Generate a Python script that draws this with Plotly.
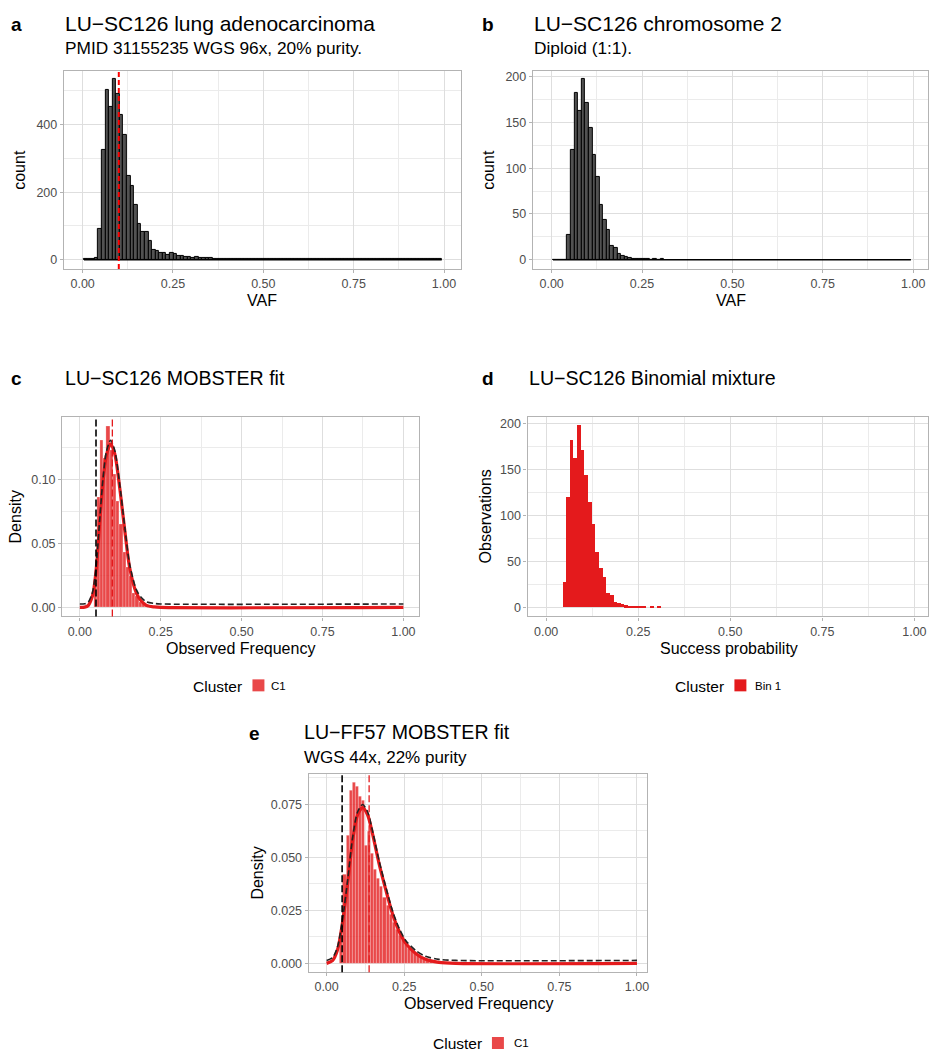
import plotly.graph_objects as go

W, H = 930, 1051
FONT = "Liberation Sans"

# ---------------- data ----------------
BIN_START = 0.0037
BIN_WIDTH = 0.0099
N_BINS = 100

# panel a: LU-SC126 whole genome VAF histogram (counts per bin, bins 0..99)
lung_counts = [1, 1, 2, 5, 91, 325, 504, 452, 535, 492,
               430, 371, 249, 218, 163, 105, 83, 82, 55, 30,
               27, 21, 19, 13, 20, 18, 10, 11, 9, 7,
               5, 7, 6, 5, 4, 4, 3, 3, 2, 3,
               2, 2, 3, 2, 2, 2, 2, 1, 2, 1,
               2, 1, 1, 2, 1, 1, 1, 2, 1, 1,
               1, 1, 1, 1, 1, 1, 1, 1, 1, 1,
               1, 1, 1, 1, 1, 1, 1, 1, 1, 1,
               1, 1, 1, 1, 1, 1, 1, 1, 1, 1,
               1, 1, 1, 1, 1, 1, 1, 1, 1, 1]
lung_purity_line = 0.10

# panels b and d: chromosome 2 counts (bins 0..30, rest empty)
chr2_counts = [0, 0, 0, 0, 27, 120, 182, 163, 198, 171,
               144, 115, 91, 60, 43, 33, 15, 13, 6, 4,
               3, 2, 1, 1, 1, 1, 1, 0, 1, 0, 1]

# panel c: MOBSTER fit LU-SC126 (density per bin, starting at bin 4)
c_first_bin = 4
c_density = [0.019, 0.086, 0.131, 0.117, 0.142, 0.123, 0.104, 0.083, 0.065, 0.043,
             0.031, 0.024, 0.011, 0.009, 0.004, 0.003, 0.002, 0.0015, 0.0007, 0.0007,
             0.0007, 0.0007, 0.0007, 0, 0.0007, 0, 0.0007]
c_fit_x = [0, 0.015, 0.026, 0.035, 0.041, 0.051, 0.062, 0.072, 0.082, 0.095,
           0.108, 0.123, 0.139, 0.154, 0.175, 0.19, 0.206, 0.23, 0.25, 1.0]
c_fit_y = [0, 0.0002, 0.0015, 0.006, 0.011, 0.031, 0.068, 0.099, 0.119, 0.128,
           0.120, 0.094, 0.060, 0.031, 0.011, 0.005, 0.0016, 0.0004, 0, 0]
c_mix_y = [0.0027, 0.0029, 0.0042, 0.0087, 0.0137, 0.0337, 0.0707, 0.1017, 0.1217, 0.1307,
           0.1227, 0.0967, 0.0627, 0.0337, 0.0137, 0.0077, 0.0043, 0.0031, 0.0027, 0.0027]
c_cutoff = 0.05
c_mean = 0.1005

# panel e: MOBSTER fit LU-FF57
e_first_bin = 4
e_density = [0.012, 0.0416, 0.060, 0.0816, 0.085, 0.0835, 0.0785, 0.0766, 0.0553, 0.062,
             0.0518, 0.044, 0.040, 0.036, 0.031, 0.027, 0.023, 0.019, 0.016, 0.013,
             0.011, 0.009, 0.007, 0.006, 0.005, 0.004, 0.003, 0.0025, 0.002, 0.0015,
             0.001, 0.001, 0.0007, 0.0005]
e_fit_x = [0, 0.019, 0.035, 0.051, 0.068, 0.084, 0.10, 0.116, 0.132, 0.148,
           0.169, 0.191, 0.212, 0.234, 0.255, 0.287, 0.319, 0.362, 0.416, 1.0]
e_fit_y = [0, 0.0013, 0.0063, 0.019, 0.038, 0.058, 0.070, 0.0734, 0.070, 0.061,
           0.047, 0.0345, 0.0235, 0.015, 0.0094, 0.0047, 0.0019, 0.0005, 0, 0]
e_mix_y = [0.0014, 0.0027, 0.0077, 0.0204, 0.0394, 0.0594, 0.0714, 0.0748, 0.0714, 0.0624,
           0.0484, 0.0359, 0.0249, 0.0164, 0.0108, 0.0061, 0.0033, 0.0019, 0.0014, 0.0014]
e_cutoff = 0.05
e_mean = 0.137

RED = "#E41A1C"
RED_A = "rgba(228,26,28,0.8)"
GRID = "#DEDEDE"
GRID_MINOR = "#EBEBEB"
BORDER = "#B3B3B3"
TICKTXT = "#4D4D4D"


def centers(first, n):
    return [BIN_START + BIN_WIDTH * (first + k + 0.5) for k in range(n)]


def px_x(x):
    return x / W


def px_y(y):
    return 1 - y / H


fig = go.Figure()

# panel a
fig.add_trace(go.Bar(x=centers(0, len(lung_counts)), y=lung_counts, width=BIN_WIDTH,
                     marker=dict(color="#525252", line=dict(color="black", width=1)),
                     xaxis="x", yaxis="y", showlegend=False))
fig.add_trace(go.Scatter(x=[BIN_START, BIN_START + N_BINS * BIN_WIDTH], y=[0, 0], mode="lines",
                         line=dict(color="black", width=1.5), xaxis="x", yaxis="y", showlegend=False))

# panel b
fig.add_trace(go.Bar(x=centers(0, len(chr2_counts)), y=chr2_counts, width=BIN_WIDTH,
                     marker=dict(color="#525252", line=dict(color="black", width=1)),
                     xaxis="x2", yaxis="y2", showlegend=False))
fig.add_trace(go.Scatter(x=[BIN_START, BIN_START + N_BINS * BIN_WIDTH], y=[0, 0], mode="lines",
                         line=dict(color="black", width=1.5), xaxis="x2", yaxis="y2", showlegend=False))

# panel c
fig.add_trace(go.Bar(x=centers(c_first_bin, len(c_density)), y=c_density, width=BIN_WIDTH,
                     marker=dict(color=RED_A, line=dict(color="rgba(255,255,255,0.45)", width=0.5)),
                     xaxis="x3", yaxis="y3", showlegend=False))
fig.add_trace(go.Scatter(x=c_fit_x, y=c_fit_y, mode="lines", line=dict(color=RED, width=3.2, shape="spline", smoothing=0.8),
                         xaxis="x3", yaxis="y3", showlegend=False))
fig.add_trace(go.Scatter(x=c_fit_x, y=c_mix_y, mode="lines",
                         line=dict(color="#222222", width=1.6, dash="6px,3px", shape="spline", smoothing=0.8),
                         xaxis="x3", yaxis="y3", showlegend=False))

# panel d
fig.add_trace(go.Bar(x=centers(0, len(chr2_counts)), y=chr2_counts, width=BIN_WIDTH,
                     marker=dict(color=RED, line=dict(width=0)),
                     xaxis="x4", yaxis="y4", showlegend=False))

# panel e
fig.add_trace(go.Bar(x=centers(e_first_bin, len(e_density)), y=e_density, width=BIN_WIDTH,
                     marker=dict(color=RED_A, line=dict(color="rgba(255,255,255,0.45)", width=0.5)),
                     xaxis="x5", yaxis="y5", showlegend=False))
fig.add_trace(go.Scatter(x=e_fit_x, y=e_fit_y, mode="lines", line=dict(color=RED, width=3.2, shape="spline", smoothing=0.8),
                         xaxis="x5", yaxis="y5", showlegend=False))
fig.add_trace(go.Scatter(x=e_fit_x, y=e_mix_y, mode="lines",
                         line=dict(color="#222222", width=1.6, dash="6px,3px", shape="spline", smoothing=0.8),
                         xaxis="x5", yaxis="y5", showlegend=False))


def xaxis(domain_px, rng, anchor):
    return dict(domain=[px_x(domain_px[0]), px_x(domain_px[1])], range=rng, anchor=anchor,
                tickmode="linear", tick0=0, dtick=0.25, tickformat=".2f",
                showgrid=True, gridcolor=GRID, gridwidth=1,
                minor=dict(showgrid=True, gridcolor=GRID_MINOR, gridwidth=0.6, dtick=0.125, tick0=0),
                showline=True, mirror=True, linecolor=BORDER, linewidth=1.2,
                ticks="outside", ticklen=3, tickwidth=1, tickcolor=BORDER,
                zeroline=False, tickfont=dict(family=FONT, size=12.5, color=TICKTXT))


def yaxis(domain_px, rng, dtick, fmt, anchor):
    return dict(domain=[px_y(domain_px[1]), px_y(domain_px[0])], range=rng, anchor=anchor,
                tickmode="linear", tick0=0, dtick=dtick, tickformat=fmt,
                showgrid=True, gridcolor=GRID, gridwidth=1,
                minor=dict(showgrid=True, gridcolor=GRID_MINOR, gridwidth=0.6, dtick=dtick / 2, tick0=0),
                showline=True, mirror=True, linecolor=BORDER, linewidth=1.2,
                ticks="outside", ticklen=3, tickwidth=1, tickcolor=BORDER,
                zeroline=False, tickfont=dict(family=FONT, size=12.5, color=TICKTXT))


fig.update_layout(
    width=W, height=H, margin=dict(l=0, r=0, t=0, b=0),
    paper_bgcolor="white", plot_bgcolor="white",
    bargap=0, barmode="overlay",
    font=dict(family=FONT, color="black"),
    xaxis=xaxis([64, 462], [-0.052, 1.047], "y"),
    yaxis=yaxis([70, 268.3], [-27.5, 559], 200, "d", "x"),
    xaxis2=xaxis([534, 930], [-0.052, 1.041], "y2"),
    yaxis2=yaxis([70, 268.3], [-10.2, 206.3], 50, "d", "x2"),
    xaxis3=xaxis([62.3, 419.5], [-0.0546, 1.047], "y3"),
    yaxis3=yaxis([416.7, 616], [-0.00703, 0.1487], 0.05, ".2f", "x3"),
    xaxis4=xaxis([528.7, 930], [-0.0504, 1.0369], "y4"),
    yaxis4=yaxis([416.7, 616], [-9.8, 207.2], 50, "d", "x4"),
    xaxis5=xaxis([309.3, 648.3], [-0.0579, 1.032], "y5"),
    yaxis5=yaxis([773.3, 972.3], [-0.00424, 0.0894], 0.025, ".3f", "x5"),
)

# vertical reference lines
shapes = [
    dict(type="line", xref="x", yref="y domain", x0=lung_purity_line, x1=lung_purity_line, y0=0, y1=1,
         line=dict(color="#FF0000", width=2, dash="5px,3px"), layer="above"),
    dict(type="line", xref="x3", yref="y3 domain", x0=c_cutoff, x1=c_cutoff, y0=0, y1=1,
         line=dict(color="black", width=1.6, dash="7px,3px"), layer="above"),
    dict(type="line", xref="x3", yref="y3 domain", x0=c_mean, x1=c_mean, y0=0, y1=1,
         line=dict(color=RED, width=1.3, dash="7px,3px"), layer="above"),
    dict(type="line", xref="x5", yref="y5 domain", x0=e_cutoff, x1=e_cutoff, y0=0, y1=1,
         line=dict(color="black", width=1.6, dash="7px,3px"), layer="above"),
    dict(type="line", xref="x5", yref="y5 domain", x0=e_mean, x1=e_mean, y0=0, y1=1,
         line=dict(color=RED, width=1.3, dash="7px,3px"), layer="above"),
    # legend keys
    dict(type="rect", xref="paper", yref="paper", x0=px_x(253), x1=px_x(265), y0=px_y(691), y1=px_y(679),
         fillcolor=RED_A, line=dict(width=0)),
    dict(type="rect", xref="paper", yref="paper", x0=px_x(736), x1=px_x(748), y0=px_y(691), y1=px_y(679),
         fillcolor=RED, line=dict(width=0)),
    dict(type="rect", xref="paper", yref="paper", x0=px_x(493), x1=px_x(505), y0=px_y(1049), y1=px_y(1037),
         fillcolor=RED_A, line=dict(width=0)),
]
fig.update_layout(shapes=shapes)

annotations = []


def text(x, y, s, size, bold=False, anchor="left", angle=0, color="black"):
    annotations.append(dict(x=px_x(x), y=px_y(y), xref="paper", yref="paper", text=("<b>%s</b>" % s) if bold else s,
                            showarrow=False, xanchor=anchor, yanchor="middle", textangle=angle,
                            font=dict(family=FONT, size=size, color=color)))


TITLE = 21
TITLE2 = 19.6
SUB = 17.3
AX = 16

# panel labels and titles
text(9, 24, "a", 19, bold=True)
text(63, 23, "LU\u2212SC126 lung adenocarcinoma", TITLE)
text(63, 47, "PMID 31155235 WGS 96x, 20% purity.", SUB)
text(481, 24, "b", 19, bold=True)
text(533, 23, "LU\u2212SC126 chromosome 2", TITLE)
text(533, 47, "Diploid (1:1).", SUB)
text(9, 378, "c", 19, bold=True)
text(63, 377, "LU\u2212SC126 MOBSTER fit", TITLE2)
text(481, 378, "d", 19, bold=True)
text(528, 377, "LU\u2212SC126 Binomial mixture", TITLE2)
text(248, 733, "e", 19, bold=True)
text(303, 732, "LU\u2212FF57 MOBSTER fit", TITLE2)
text(303, 757, "WGS 44x, 22% purity", 17)

# axis titles
text(263, 300, "VAF", AX, anchor="center")
text(733, 300, "VAF", AX, anchor="center")
text(20, 169, "count", AX, anchor="center", angle=-90)
text(490, 169, "count", AX, anchor="center", angle=-90)
text(241, 648, "Observed Frequency", AX, anchor="center")
text(731, 648, "Success probability", AX, anchor="center")
text(16, 516, "Density", AX, anchor="center", angle=-90)
text(487, 516, "Observations", AX, anchor="center", angle=-90)
text(480, 1003, "Observed Frequency", AX, anchor="center")
text(258, 873, "Density", AX, anchor="center", angle=-90)

# legends
text(191, 686, "Cluster", 15.5)
text(270, 686, "C1", 11.5)
text(674, 686, "Cluster", 15.5)
text(755, 686, "Bin 1", 11.5)
text(432, 1043, "Cluster", 15.5)
text(513, 1043, "C1", 11.5)

fig.update_layout(annotations=annotations)

fig.write_html("out.html")
